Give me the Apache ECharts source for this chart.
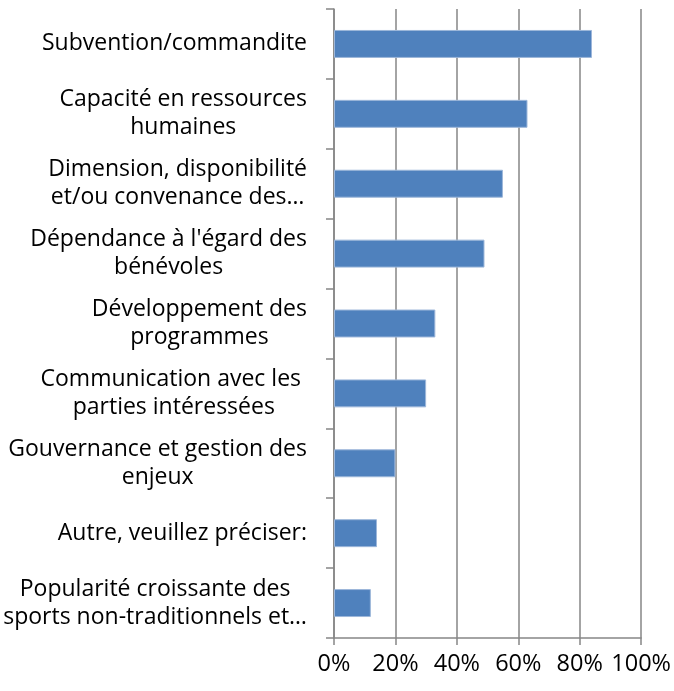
<!DOCTYPE html>
<html lang="fr">
	<head>
		<meta charset="UTF-8" />
		<title>eCharts</title>
		<script src="https://cdn.jsdelivr.net/npm/echarts@6.0.0/dist/echarts.min.js"></script>
		<style>
			html, body { margin: 0; padding: 0; background: #fff; }
		</style>
	</head>
	<body>
		<div id="main" style="width: 674px; height: 691px"></div>
		<script type="text/javascript">
			// Categories, top to bottom
			const categories = [
				"Subvention/commandite",
				"Capacité en ressources\nhumaines",
				"Dimension, disponibilité\net/ou convenance des…",
				"Dépendance à l'égard des\nbénévoles",
				"Développement des\nprogrammes",
				"Communication avec les \nparties intéressées",
				"Gouvernance et gestion des\nenjeux",
				"Autre, veuillez préciser:",
				"Popularité croissante des\nsports non-traditionnels et…",
			];
			// Share of respondents (%)
			const values = [84, 63, 55, 49, 33, 30, 20, 14, 12];
			const xTicks = [0, 20, 40, 60, 80, 100];

			const font = "Open Sans";
			const gray = "#868686";

			let myChart = echarts.init(document.getElementById("main"));
			let options = {
				animation: false,
				grid: { left: 334, right: 30, top: 9, bottom: 53 },
				xAxis: {
					type: "value",
					min: xTicks[0],
					max: xTicks[xTicks.length - 1],
					interval: xTicks[1] - xTicks[0],
					axisLine: { show: true, lineStyle: { color: gray, width: 1.5 } },
					axisTick: { show: true, length: 7, lineStyle: { color: gray, width: 1.5 } },
					splitLine: { show: true, lineStyle: { color: gray, width: 1.5 } },
					axisLabel: {
						formatter: "{value}%",
						margin: 14,
						color: "#000",
						fontFamily: font,
						fontSize: 23.5,
					},
				},
				yAxis: {
					type: "category",
					inverse: true,
					data: categories,
					axisLine: { show: true, lineStyle: { color: gray, width: 1.5 } },
					axisTick: { show: true, length: 8, lineStyle: { color: gray, width: 1.5 } },
					axisLabel: {
						margin: 27,
						color: "#000",
						formatter: (v) => v.split("\n").map((l) => "{c|" + l + "}").join("\n"),
						rich: {
							c: {
								align: "center",
								color: "#000",
								fontFamily: font,
								fontSize: 23,
								lineHeight: 28,
							},
						},
					},
				},
				series: [
					{
						type: "bar",
						data: values,
						barCategoryGap: "60%",
						itemStyle: { color: "#4F81BD", borderColor: "#9db7da", borderWidth: 1 },
					},
				],
			};
			myChart.setOption(options);
		</script>
	</body>
</html>
